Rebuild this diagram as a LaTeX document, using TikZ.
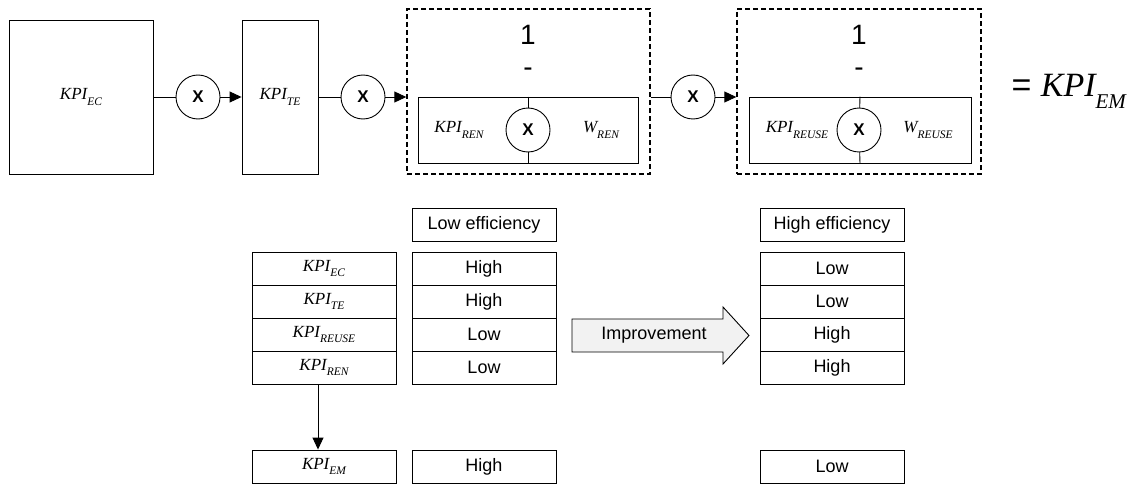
\documentclass[tikz,border=0pt]{standalone}
\usepackage{fontspec}
\setmainfont{Liberation Sans}
\newfontfamily\kpifont{Liberation Serif}
\usetikzlibrary{arrows.meta}
\definecolor{arrowgray}{HTML}{F2F2F2}
\newcommand{\subsize}{\fontsize{11.5}{11.5}\selectfont}
\newcommand{\ix}[2]{{\kpifont\itshape #1\raisebox{-0.75ex}{\subsize #2}}}
\tikzset{
  box/.style={draw, line width=0.9pt, inner sep=0pt},
  mult/.style={draw, line width=0.9pt, circle, minimum size=44pt, inner sep=0pt, font=\fontsize{17}{17}\selectfont\bfseries},
  frame/.style={draw, line width=1.4pt, dash pattern=on 5pt off 3pt, inner sep=0pt},
  cell/.style={box, minimum width=144pt, minimum height=33pt, font=\fontsize{18}{18}\selectfont},
  kpitext/.style={font=\fontsize{17}{17}\selectfont},
  link/.style={line width=0.9pt},
  flow/.style={link, -{Triangle[length=12pt, width=11pt]}}
}
\begin{document}
\begin{tikzpicture}[x=1pt, y=-1pt]
\useasboundingbox (0,0) rectangle (1139,484);
% top chain
\node[box, minimum width=144pt, minimum height=154pt, kpitext] (ec) at (81,97) {\ix{KPI}{EC}};
\node[mult] (c1) at (198,97) {X};
\node[box, minimum width=76pt, minimum height=154pt, kpitext] (te) at (280,97) {\ix{KPI}{TE}};
\node[mult] (c2) at (363,97) {X};
\node[frame, minimum width=243pt, minimum height=165pt] (ren) at (528.5,91.5) {};
\node[font=\fontsize{28}{28}\selectfont] (one1) at (528,35) {1};
\node[font=\fontsize{28}{28}\selectfont] (minus1) at (528,72) {-};
\node[box, minimum width=220pt, minimum height=66pt] (renin) at (528,130) {};
\node[mult] (m1) at (528,130) {X};
\node[kpitext] (kren) at (459,130) {\ix{KPI}{REN}};
\node[kpitext] (wren) at (601,130) {\ix{W}{REN}};
\node[mult] (c3) at (693,97) {X};
\node[frame, minimum width=244pt, minimum height=165pt] (reuse) at (859,91.5) {};
\node[font=\fontsize{28}{28}\selectfont] (one2) at (859,35) {1};
\node[font=\fontsize{28}{28}\selectfont] (minus2) at (859,72) {-};
\node[box, minimum width=222pt, minimum height=66pt] (reusein) at (860,130) {};
\node[mult] (m2) at (859,130) {X};
\node[kpitext] (kreuse) at (797,130) {\ix{KPI}{REUSE}};
\node[kpitext] (wreuse) at (928,130) {\ix{W}{REUSE}};
\node[anchor=base west, font=\fontsize{34}{34}\selectfont] (res) at (1008,97)
  {\renewcommand{\subsize}{\fontsize{21}{21}\selectfont}= \ix{KPI}{EM}};
\draw[link] (ec) -- (c1);
\draw[flow] (c1) -- (te);
\draw[link] (te) -- (c2);
\draw[flow] (c2) -- (c2 -| ren.west);
\draw[link] (ren.east |- c3) -- (c3);
\draw[flow] (c3) -- (c3 -| reuse.west);
\draw[link] (renin.north) -- (m1);
\draw[link] (m1) -- (renin.south);
\draw[link] (reusein.north) -- (m2);
\draw[link] (m2) -- (reusein.south);
% comparison table
\node[cell] (lowhead) at (484,224.5) {Low efficiency};
\node[cell] (highhead) at (832,224.5) {High efficiency};
\foreach \name/\sub/\a/\b [count=\i] in {ec/EC/High/Low, te/TE/High/Low, reuse/REUSE/Low/High, ren/REN/Low/High} {
  \node[cell, kpitext] (k\name) at (324,235.5+33*\i) {\ix{KPI}{\sub}};
  \node[cell] (lo\name) at (484,235.5+33*\i) {\a};
  \node[cell] (hi\name) at (832,235.5+33*\i) {\b};
}
\node[cell, kpitext] (kem) at (324,466.5) {\ix{KPI}{EM}};
\node[cell] (loem) at (484,466.5) {High};
\node[cell] (hiem) at (832,466.5) {Low};
\draw[flow] ([xshift=-6pt]kren.south) -- ([xshift=-6pt]kem.north);
% improvement arrow
\draw[box, fill=arrowgray] (572,319) -- (723,319) -- (723,307) -- (749,335.5)
  -- (723,364) -- (723,352) -- (572,352) -- cycle;
\node[font=\fontsize{18}{18}\selectfont] (impr) at (654,335.5) {Improvement};
\end{tikzpicture}
\end{document}
